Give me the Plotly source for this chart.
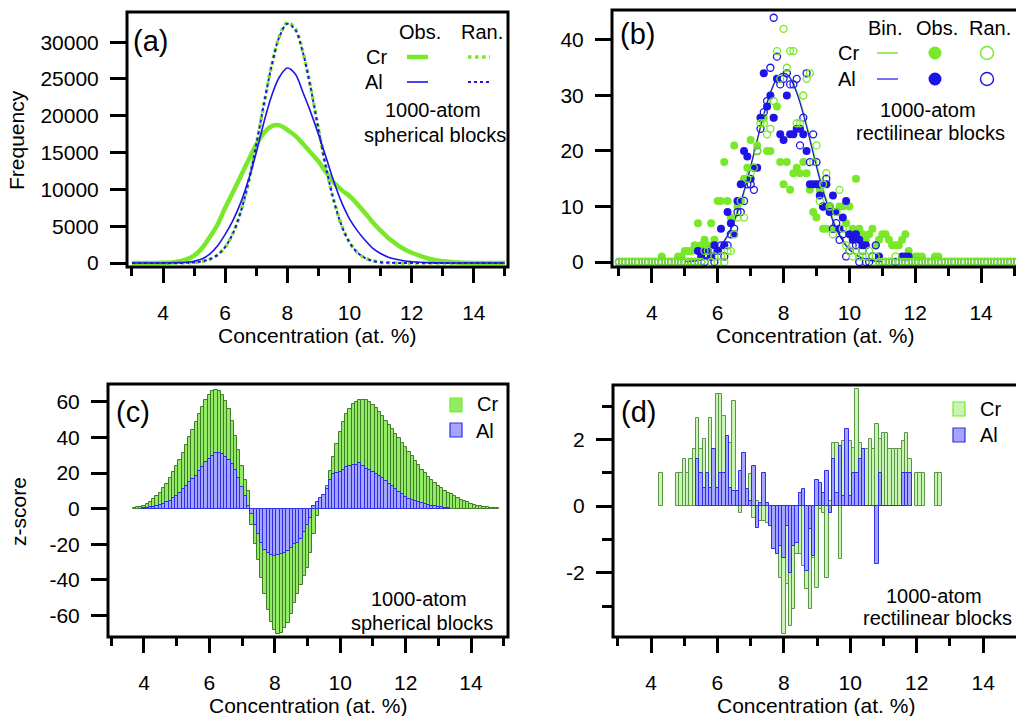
import plotly.graph_objects as go

W, H = 1016, 716
FONT = "Liberation Sans, Arial, Helvetica, sans-serif"

GREEN = "rgb(120,232,40)"
BLUE = "rgb(30,20,230)"
C_GREEN_FILL = "rgb(145,236,100)"
C_GREEN_LINE = "rgb(65,125,40)"
D_GREEN_FILL = "rgb(200,245,180)"
D_GREEN_LINE = "rgb(90,150,70)"
BLUE_FILL = "rgb(165,165,255)"
BLUE_LINE = "rgb(45,45,235)"

# ---------------- (a) spherical blocks: frequency distributions ----------------
a_x0, a_step = 3.0, 0.25
a_cr_obs = [0, 0, 0, 10, 30, 80, 200, 500, 1000, 2000, 3500, 5200, 7500, 9600, 11800, 14000,
            16100, 17700, 18600, 18700, 18100, 17300, 16200, 15000, 13800, 12300, 10900, 9900,
            9100, 8000, 6800, 5500, 4400, 3400, 2600, 1900, 1400, 1000, 650, 400, 250, 150, 80,
            40, 20, 10, 0, 0, 0]
a_al_obs = [0, 0, 0, 0, 10, 30, 60, 100, 250, 550, 1200, 2300, 3900, 5800, 8200, 11300, 15000,
            19200, 22800, 25300, 26500, 25700, 23200, 20500, 17500, 14300, 11000, 8200, 6000,
            4400, 3100, 2000, 1300, 800, 500, 300, 180, 100, 50, 20, 0, 0, 0, 0, 0, 0, 0, 0, 0]
a_cr_ran = [0, 0, 0, 0, 0, 0, 5, 30, 80, 210, 490, 1080, 2170, 4040, 6930, 10990, 16050, 21630,
            26900, 30860, 32650, 31870, 28700, 23840, 18250, 12900, 8410, 5060, 2810, 1440, 680,
            295, 120, 45, 15, 0, 0, 0, 0, 0, 0, 0, 0, 0, 0, 0, 0, 0, 0]
a_al_ran = [0, 0, 0, 0, 0, 0, 5, 30, 85, 215, 500, 1090, 2180, 4050, 6950, 11000, 16100, 21700,
            26900, 30800, 32500, 31700, 28600, 23800, 18200, 12850, 8400, 5050, 2800, 1430, 670,
            290, 115, 40, 15, 0, 0, 0, 0, 0, 0, 0, 0, 0, 0, 0, 0, 0, 0]
a_x = [round(a_x0 + a_step * i, 2) for i in range(len(a_cr_obs))]

# ---------------- (b) rectilinear blocks: counts ----------------
b_x0, b_step = 3.0, 0.1
b_cr_obs = [0, 0, 0, 0, 0, 0, 0, 0, 0, 0,
            0, 0, 0, 1, 0, 0, 0, 0, 1, 1,
            2, 2, 2, 3, 7, 3, 4, 3, 7, 4,
            11, 11, 18, 11, 8, 21, 10, 11, 15, 17,
            22, 17, 21, 26, 26, 20, 20, 26, 28, 18,
            14, 18, 13, 16, 17, 16, 18, 16, 13, 9,
            8, 13, 6, 6, 10, 6, 9, 10, 10, 7,
            10, 6, 15, 6, 5, 4, 5, 6, 3, 4,
            5, 5, 4, 3, 3, 3, 4, 5, 2, 0,
            1, 1, 1, 0, 0, 0, 1, 1, 0, 0,
            0, 0, 0, 0, 0, 0, 0, 0, 0, 0,
            0, 0, 0, 0, 0, 0, 0, 0, 0, 0,
            0]
b_cr_ran = [0, 0, 0, 0, 0, 0, 0, 0, 0, 0,
            0, 0, 0, 0, 0, 0, 0, 0, 0, 0,
            0, 0, 0, 0, 0, 0, 2, 2, 0, 1,
            0, 1, 0, 2, 2, 5, 8, 11, 8, 15,
            16, 17, 20, 25, 25, 23, 24, 29, 38, 33,
            42, 35, 38, 38, 25, 25, 30, 33, 34, 18,
            21, 11, 14, 16, 10, 5, 9, 13, 6, 3,
            2, 1, 2, 1, 1, 1, 2, 0, 1, 0,
            0, 0, 0, 0, 1, 0, 0, 0, 0, 0,
            0, 0, 0, 0, 0, 0, 0, 0, 0, 0,
            0, 0, 0, 0, 0, 0, 0, 0, 0, 0,
            0, 0, 0, 0, 0, 0, 0, 0, 0, 0,
            0]
b_al_obs = [0, 0, 0, 0, 0, 0, 0, 0, 0, 0,
            0, 0, 0, 0, 0, 0, 0, 0, 0, 0,
            0, 0, 0, 0, 2, 1, 2, 2, 1, 3,
            2, 6, 3, 9, 7, 5, 11, 14, 20, 19,
            15, 17, 17, 26, 34, 28, 30, 26, 33, 23,
            22, 30, 23, 23, 24, 24, 23, 20, 14, 14,
            14, 12, 10, 14, 9, 12, 9, 6, 8, 11,
            5, 4, 5, 4, 3, 3, 0, 0, 0, 1,
            0, 0, 0, 0, 0, 0, 1, 1, 1, 0,
            0, 0, 0, 0, 0, 0, 0, 0, 0, 0,
            0, 0, 0, 0, 0, 0, 0, 0, 0, 0,
            0, 0, 0, 0, 0, 0, 0, 0, 0, 0,
            0]
b_al_ran = [0, 0, 0, 0, 0, 0, 0, 0, 0, 0,
            0, 0, 0, 0, 0, 0, 0, 0, 0, 0,
            0, 0, 0, 0, 0, 0, 0, 2, 1, 0,
            2, 3, 1, 3, 5, 6, 9, 9, 11, 14,
            14, 13, 20, 24, 27, 29, 35, 44, 37, 32,
            33, 34, 32, 32, 33, 21, 26, 34, 18, 23,
            18, 14, 10, 15, 10, 6, 7, 4, 5, 1,
            2, 3, 3, 0, 2, 0, 0, 1, 3, 0,
            0, 0, 0, 0, 0, 0, 0, 0, 0, 0,
            0, 0, 0, 0, 0, 0, 0, 0, 0, 0,
            0, 0, 0, 0, 0, 0, 0, 0, 0, 0,
            0, 0, 0, 0, 0, 0, 0, 0, 0, 0,
            0]
b_x = [round(b_x0 + b_step * i, 2) for i in range(len(b_cr_obs))]

b_bin_x0 = 5.0
b_al_bin = [0.1, 0.1, 0.15, 0.2, 0.3, 0.5, 0.7, 0.9, 1.3, 1.7,
            2.2, 2.9, 3.8, 4.8, 6.0, 7.4, 9.0, 10.8, 12.8, 14.9,
            17.2, 19.6, 22.0, 24.4, 26.6, 28.7, 30.5, 32.0, 33.1, 33.8,
            34.0,
            33.8, 33.1, 32.0, 30.5, 28.7, 26.6, 24.4, 22.0, 19.6, 17.2,
            14.9, 12.8, 10.8, 9.0, 7.4, 6.0, 4.8, 3.8, 2.9, 2.2,
            1.7, 1.3, 0.9, 0.7, 0.5, 0.3, 0.2, 0.15, 0.1, 0.1]
b_cr_bin = [0.1, 0.1, 0.1, 0.2, 0.3, 0.4, 0.6, 0.9, 1.2, 1.6,
            2.1, 2.8, 3.6, 4.6, 5.8, 7.2, 8.8, 10.6, 12.6, 14.7,
            17.0, 19.4, 21.8, 24.2, 26.4, 28.5, 30.4, 31.9, 33.0, 33.8,
            34.0,
            33.9, 33.3, 32.2, 30.8, 29.0, 27.0, 24.8, 22.4, 20.0, 17.6,
            15.3, 13.2, 11.2, 9.4, 7.8, 6.3, 5.1, 4.0, 3.1, 2.4,
            1.8, 1.4, 1.0, 0.7, 0.5, 0.4, 0.3, 0.2, 0.1, 0.1]
b_bin_x = [round(b_bin_x0 + b_step * i, 2) for i in range(len(b_al_bin))]

# ---------------- (c) spherical blocks: z-scores ----------------
c_step = 0.1
c_cr_x0 = 3.7
c_cr = [0.5, 0.8, 1.2, 1.8, 2.7, 3.8, 5.2, 7, 9, 11.5,
        14, 17, 20.5, 24, 27.5, 31.5, 36, 40, 44, 48.5,
        53, 57, 61, 64, 66, 66.5, 66, 64, 60.5, 56,
        49, 41, 33, 24, 16, 10, -9, -20, -29, -39,
        -48, -57, -63.5, -68, -70.5, -70, -67, -64, -59, -53,
        -48, -43, -38, -33, -25, -14, -4, 1.5, 6, 13,
        21, 29, 36.5, 43, 48.5, 53, 56, 58.5, 60, 61,
        61.3, 60.8, 59.8, 58, 56.5, 54.5, 52, 49.5, 47, 44.5,
        42, 39.5, 37, 34.5, 32, 29.5, 27, 24.5, 22, 20,
        18, 16, 14.5, 13, 11.5, 10, 9, 8, 7, 6,
        5, 4.2, 3.5, 2.8, 2.2, 1.7, 1.3, 1, 0.8, 0.6,
        0.4, 0.3]
c_al_x0 = 4.0
c_al = [0.3, 0.5, 0.8, 1.1, 1.6, 2.2, 2.8, 3.5, 4.5, 5.8,
        7.2, 9, 11, 13, 15, 16.5, 18.5, 21, 23.5, 26,
        28, 29.5, 31, 31.5, 30.5, 29, 27.5, 25, 21.5, 17,
        12, 7, 1.5, -3, -9, -14, -19, -23, -25, -26,
        -26.5, -26, -25.5, -25, -24, -22, -20, -19, -17, -13,
        -9, -5, 1.5, 4, 6, 7.5, 11, 16, 19.5, 20,
        20.5, 22, 23.5, 24, 24.5, 24.8, 25.5, 24, 22.5, 21.5,
        20.5, 19.5, 18.5, 17, 15.5, 14, 12.5, 11, 9.5, 8,
        6.5, 5.5, 4.8, 4.2, 3.7, 3.2, 2.7, 2.2, 1.8, 1.5,
        1.2, 0.9, 0.6, 0.4]
c_cr_x = [round(c_cr_x0 + c_step * i, 2) for i in range(len(c_cr))]
c_al_x = [round(c_al_x0 + c_step * i, 2) for i in range(len(c_al))]

# ---------------- (d) rectilinear blocks: z-scores ----------------
d_cr_x0 = 4.3
d_cr = [1.0, 0, 0, 0, 0, 1.0, 1.0, 1.4, 1.0, 1.4,
        1.7, 2.65, 1.7, 2.0, 1.0, 2.65, 1.0, 3.35, 3.35, 2.7,
        2.1, 1.9, 3.15, 0.45, -0.22, 1.05, 0.5, 0.95, -0.35, 0.15,
        -0.45, -0.45, -0.5, -0.6, -1.2, -1.45, -2.15, -3.85, -2.35, -3.6,
        -3.1, -1.45, -1.45, -1.8, -2.5, -3.1, -1.55, -2.45, -0.1, -0.2,
        -2.15, 0.15, 1.9, 1.9, -1.6, 1.95, 1.95, 1.95, 1.75, 3.5,
        1.9, 1.6, 1.7, 2.0, 1.7, 2.45, 2.0, 2.2, 2.2, 1.7,
        1.7, 1.7, 1.7, 1.95, 2.2, 1.4, 0, 1.0, 1.0, 1.0,
        0, 0, 0, 1.0, 1.0]
d_al_x0 = 5.4
d_al = [1.4, 1.0, 0.55, 1.0, 0.55, 1.7, 0.55, 1.0, 1.0, 2.1,
        0.55, 0.45, 0.45, 1.05, 1.6, 0.5, 0.15, 1.2, -0.65, 0.1,
        1.0, 0.1, -0.6, -1.3, -1.45, -1.2, -1.55, -0.6, -2.0, -1.2,
        -1.1, 0.4, 0.5, -1.95, -0.7, -1.5, 0.78, 0.7, 0.4, 1.05,
        -0.2, 1.4, 0.4, 1.8, 0.3, 2.3, 0.3, 1.0, 1.0, 1.4,
        1.7, 0, 0, 0, -1.75, 1.0, 0, 0, 0, 0,
        0, 0, 1.0, 1.0, 1.0]
d_cr_x = [round(d_cr_x0 + c_step * i, 2) for i in range(len(d_cr))]
d_al_x = [round(d_al_x0 + c_step * i, 2) for i in range(len(d_al))]

# ticks
x_major = [4, 6, 8, 10, 12, 14]
a_yticks = [0, 5000, 10000, 15000, 20000, 25000, 30000]
b_yticks = [0, 10, 20, 30, 40]
c_yticks = [-60, -40, -20, 0, 20, 40, 60]
d_yticks = [-2, 0, 2]

TICK_SIZE = 21
TEXT_SIZE = 20


def hide_zero(vals):
    return [v if v != 0 else None for v in vals]


fig = go.Figure()

# (a)
fig.add_trace(go.Scatter(x=a_x, y=a_cr_obs, mode="lines", line=dict(color=GREEN, width=4.5, shape="spline"),
                         xaxis="x", yaxis="y"))
fig.add_trace(go.Scatter(x=a_x, y=a_cr_ran, mode="lines",
                         line=dict(color=GREEN, width=3.5, dash="dot", shape="spline"), xaxis="x", yaxis="y"))
fig.add_trace(go.Scatter(x=a_x, y=a_al_ran, mode="lines",
                         line=dict(color=BLUE, width=2, dash="dot", shape="spline"), xaxis="x", yaxis="y"))
fig.add_trace(go.Scatter(x=a_x, y=a_al_obs, mode="lines", line=dict(color=BLUE, width=1.6, shape="spline"),
                         xaxis="x", yaxis="y"))

# (b)
fig.add_trace(go.Scatter(x=b_bin_x, y=b_cr_bin, mode="lines", line=dict(color=GREEN, width=1.5, shape="spline"),
                         xaxis="x2", yaxis="y2"))
fig.add_trace(go.Scatter(x=b_bin_x, y=b_al_bin, mode="lines", line=dict(color=BLUE, width=1.2, shape="spline"),
                         xaxis="x2", yaxis="y2"))
fig.add_trace(go.Scatter(x=b_x, y=hide_zero(b_cr_obs), mode="markers",
                         marker=dict(color=GREEN, size=8, symbol="circle", line=dict(width=0)),
                         xaxis="x2", yaxis="y2"))
fig.add_trace(go.Scatter(x=b_x, y=hide_zero(b_al_obs), mode="markers",
                         marker=dict(color=BLUE, size=8, symbol="circle", line=dict(width=0)),
                         xaxis="x2", yaxis="y2"))
fig.add_trace(go.Scatter(x=b_x, y=b_al_ran, mode="markers",
                         marker=dict(color=BLUE, size=7, symbol="circle-open", line=dict(width=1.3, color=BLUE)),
                         xaxis="x2", yaxis="y2"))
fig.add_trace(go.Scatter(x=b_x, y=b_cr_ran, mode="markers",
                         marker=dict(color=GREEN, size=7, symbol="circle-open", line=dict(width=1.3, color=GREEN)),
                         xaxis="x2", yaxis="y2"))

# (c)
fig.add_trace(go.Bar(x=c_cr_x, y=c_cr, width=0.1,
                     marker=dict(color=C_GREEN_FILL, line=dict(color=C_GREEN_LINE, width=1)),
                     xaxis="x3", yaxis="y3"))
fig.add_trace(go.Bar(x=c_al_x, y=c_al, width=0.1,
                     marker=dict(color=BLUE_FILL, line=dict(color=BLUE_LINE, width=1)),
                     xaxis="x3", yaxis="y3"))

# (d)
fig.add_trace(go.Bar(x=d_cr_x, y=hide_zero(d_cr), width=0.1,
                     marker=dict(color=D_GREEN_FILL, line=dict(color=D_GREEN_LINE, width=1)),
                     xaxis="x4", yaxis="y4"))
fig.add_trace(go.Bar(x=d_al_x, y=d_al, width=0.1,
                     marker=dict(color=BLUE_FILL, line=dict(color=BLUE_LINE, width=1)),
                     xaxis="x4", yaxis="y4"))


def px(x):
    return x / W


def py(y):
    return 1 - y / H


def xaxis_cfg(x0, x1, rng, anchor):
    return dict(domain=[px(x0), min(1.0, px(x1))], range=rng, anchor=anchor, showgrid=False, zeroline=False,
                showline=False, ticks="outside", ticklen=15, tickwidth=2.5, tickcolor="black",
                tickmode="array", tickvals=x_major, ticktext=[str(v) for v in x_major],
                ticklabelstandoff=12,
                tickfont=dict(family=FONT, size=TICK_SIZE, color="black"),
                minor=dict(ticks="outside", ticklen=8, tickwidth=2.5, tickcolor="black",
                           tickmode="linear", tick0=1, dtick=2, showgrid=False),
                fixedrange=True, automargin=False)


def yaxis_cfg(y_top, y_bottom, rng, anchor, vals, minor=None):
    d = dict(domain=[py(y_bottom), py(y_top)], range=rng, anchor=anchor, showgrid=False, zeroline=False,
             showline=False, ticks="outside", ticklen=16, tickwidth=2.5, tickcolor="black",
             tickmode="array", tickvals=vals, ticktext=[str(v) for v in vals],
             ticklabelstandoff=7,
             tickfont=dict(family=FONT, size=TICK_SIZE, color="black"), fixedrange=True, automargin=False)
    if minor:
        d["minor"] = minor
    return d


fig.update_layout(
    width=W, height=H, margin=dict(l=0, r=0, t=0, b=0),
    paper_bgcolor="white", plot_bgcolor="white", showlegend=False, barmode="overlay", bargap=0,
    font=dict(family=FONT, color="black"),
    xaxis=xaxis_cfg(127, 508, [2.84, 15.1], "y"),
    yaxis=yaxis_cfg(12, 267, [-540, 34100], "x", a_yticks),
    xaxis2=xaxis_cfg(612, 1016, [2.79, 15.06], "y2"),
    yaxis2=yaxis_cfg(10, 267, [-0.9, 45.4], "x2", b_yticks),
    xaxis3=xaxis_cfg(108, 508, [2.9, 15.13], "y3"),
    yaxis3=yaxis_cfg(384, 637, [-72, 70], "x3", c_yticks),
    xaxis4=xaxis_cfg(613, 1016, [2.855, 14.99], "y4"),
    yaxis4=yaxis_cfg(385, 637, [-3.93, 3.63], "x4", d_yticks,
                     minor=dict(ticks="outside", ticklen=10, tickwidth=2.5, tickcolor="black",
                                tickmode="linear", tick0=1, dtick=2, showgrid=False)),
)

shapes = []
# frames
for (x0, y0, x1, y1) in [(127, 12, 508, 267), (612, 10, 1030, 267), (108, 384, 508, 637), (613, 385, 1030, 637)]:
    shapes.append(dict(type="rect", xref="paper", yref="paper", x0=px(x0), x1=px(x1), y0=py(y1), y1=py(y0),
                       line=dict(color="black", width=3), layer="above"))


def hline(x0, x1, y, color, width, dash="solid"):
    return dict(type="line", xref="paper", yref="paper", x0=px(x0), x1=px(x1), y0=py(y), y1=py(y),
                line=dict(color=color, width=width, dash=dash))


# legend (a)
shapes += [hline(407, 428, 57, GREEN, 4.5), hline(468, 490, 57, GREEN, 3.5, "dot"),
           hline(407, 428, 82, BLUE, 1.6), hline(468, 490, 82, BLUE, 2, "dot")]
# legend (b)
shapes += [hline(877, 898, 53, GREEN, 1.5), hline(877, 898, 79, BLUE, 1.2)]
for (cx, cy, col, filled) in [(935, 53, GREEN, True), (935, 79, BLUE, True), (987, 53, GREEN, False),
                              (987, 79, BLUE, False)]:
    r = 6.5
    shapes.append(dict(type="circle", xref="paper", yref="paper", x0=px(cx - r), x1=px(cx + r),
                       y0=py(cy + r), y1=py(cy - r), fillcolor=col if filled else "rgba(0,0,0,0)",
                       line=dict(color=col, width=0 if filled else 1.4)))
# legend (c), (d)
for (x0, y0, fill, line) in [(450, 398, C_GREEN_FILL, GREEN), (450, 423, BLUE_FILL, BLUE_LINE),
                             (953, 402, D_GREEN_FILL, GREEN), (953, 428, BLUE_FILL, BLUE_LINE)]:
    shapes.append(dict(type="rect", xref="paper", yref="paper", x0=px(x0), x1=px(x0 + 12), y0=py(y0 + 14),
                       y1=py(y0), fillcolor=fill, line=dict(color=line, width=1.2)))
fig.update_layout(shapes=shapes)

ann = []


def text(x, y, s, size=TEXT_SIZE, angle=0):
    ann.append(dict(x=px(x), y=py(y), xref="paper", yref="paper", text=s, showarrow=False, xanchor="center",
                    yanchor="middle", textangle=angle, font=dict(family=FONT, size=size, color="black")))


text(150, 41, "(a)", 29)
text(637, 34, "(b)", 29)
text(133, 412, "(c)", 29)
text(638, 412, "(d)", 29)
# axis titles
text(17, 140, "Frequency", 21, -90)
text(18, 512, "z-score", 21, -90)
for (x, y) in [(317, 336), (815, 336), (308, 705), (816, 705)]:
    text(x, y, "Concentration (at. %)", 21)
# legend (a)
text(420, 32, "Obs.")
text(482, 32, "Ran.")
text(376, 57, "Cr")
text(374, 82, "Al")
text(433, 110, "1000-atom")
text(435, 135, "spherical blocks")
# legend (b)
text(885, 28, "Bin.")
text(937, 28, "Obs.")
text(990, 28, "Ran.")
text(848, 53, "Cr")
text(847, 79, "Al")
text(928, 110, "1000-atom")
text(930, 133, "rectilinear blocks")
# legend (c)
text(487, 404, "Cr")
text(485, 431, "Al")
text(419, 599, "1000-atom")
text(422, 623, "spherical blocks")
# legend (d)
text(990, 409, "Cr")
text(989, 435, "Al")
text(934, 596, "1000-atom")
text(937, 618, "rectilinear blocks")
fig.update_layout(annotations=ann)

fig.write_html("out.html", config={"displayModeBar": False},
               post_script="document.body.style.margin='0px';document.body.style.overflow='hidden';")
